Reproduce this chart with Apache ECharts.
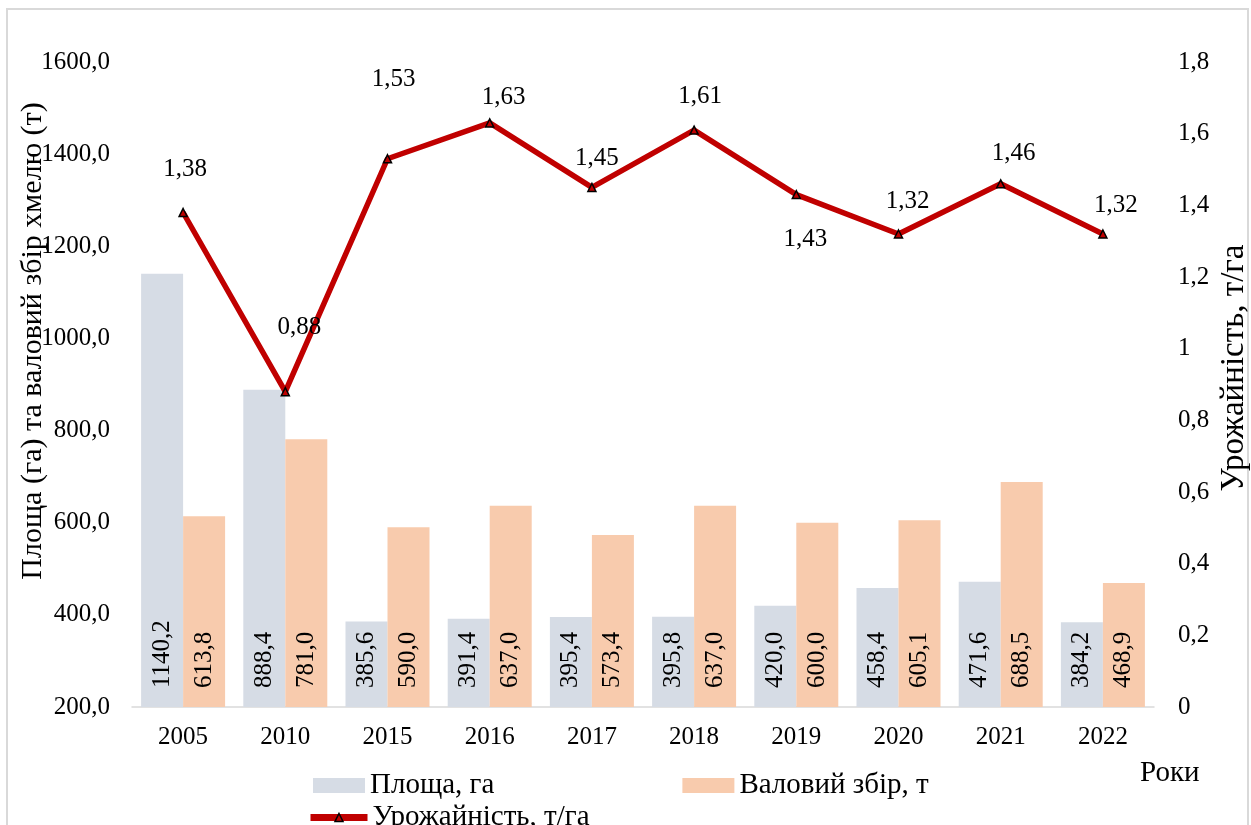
<!DOCTYPE html>
<html>
<head>
<meta charset="utf-8">
<script src="https://cdn.jsdelivr.net/npm/echarts@6/dist/echarts.min.js"></script>
<style>
  html, body { margin: 0; padding: 0; background: #fff; }
  #chart { width: 1251px; height: 825px; }
</style>
</head>
<body>
<div id="chart"></div>
<script>
// роки
const years = ['2005', '2010', '2015', '2016', '2017', '2018', '2019', '2020', '2021', '2022']
// площа, га
const area = [1140.2, 888.4, 385.6, 391.4, 395.4, 395.8, 420.0, 458.4, 471.6, 384.2]
// валовий збір, т
const harvest = [613.8, 781.0, 590.0, 637.0, 573.4, 637.0, 600.0, 605.1, 688.5, 468.9]
// урожайність, т/га
const yieldPerHa = [1.38, 0.88, 1.53, 1.63, 1.45, 1.61, 1.43, 1.32, 1.46, 1.32]

const FONT = "'Liberation Serif', 'Times New Roman', serif"
const FS = 25      // цифри
const FS_TXT = 29  // кирилиця (у Excel ширша)

// зсув підписів лінії (як у Excel, вручну)
const lineLabelShift = [[2, -43], [14, -64], [6, -79], [14, -25], [5, -29],
                        [6, -34], [9, 45], [9, -33], [13, -30], [13, -29]]

const comma = (v, d) => v.toFixed(d).replace('.', ',')

const chart = echarts.init(document.getElementById('chart'), null, {renderer: 'canvas'})

const lineData = yieldPerHa.map((v, i) => ({
    value: v,
    label: {offset: lineLabelShift[i]}
}))

const barLabel = {
    show: true, position: 'insideBottom', distance: 19,
    rotate: 90, align: 'left', verticalAlign: 'middle',
    fontSize: FS, fontFamily: FONT, color: '#000',
    formatter: p => comma(p.value, 1)
}

const option = {
    animation: false,
    textStyle: {fontFamily: FONT},
    grid: {left: 132, right: 97, top: 62, bottom: 118, containLabel: false},
    legend: [
        {
            data: ['Площа, га', 'Валовий збір, т'],
            left: 308, top: 766,
            itemWidth: 52, itemHeight: 15, itemGap: 188,
            icon: 'rect',
            textStyle: {fontFamily: FONT, fontSize: FS_TXT, color: '#000'}
        },
        {
            data: ['Урожайність, т/га'],
            left: 302, top: 798,
            itemWidth: 57, itemHeight: 10,
            lineStyle: {width: 7, color: '#C00000'},
            itemStyle: {color: '#C00000', borderColor: '#000', borderWidth: 1.5},
            textStyle: {fontFamily: FONT, fontSize: FS_TXT, color: '#000'}
        }
    ],
    xAxis: {
        type: 'category',
        data: years,
        axisTick: {show: false},
        axisLine: {lineStyle: {color: '#d9d9d9', width: 1.5}},
        axisLabel: {color: '#000', fontSize: FS, fontFamily: FONT, margin: 18}
    },
    yAxis: [
        {
            type: 'value', min: 200, max: 1600, interval: 200,
            splitLine: {show: false},
            axisLine: {show: false}, axisTick: {show: false},
            axisLabel: {color: '#000', fontSize: FS, fontFamily: FONT, margin: 22,
                formatter: v => comma(v, 1)}
        },
        {
            type: 'value', min: 0, max: 1.8, interval: 0.2,
            splitLine: {show: false},
            axisLine: {show: false}, axisTick: {show: false},
            axisLabel: {color: '#000', fontSize: FS, fontFamily: FONT, margin: 24,
                formatter: v => String(Math.round(v * 10) / 10).replace('.', ',')}
        }
    ],
    series: [
        {
            name: 'Площа, га',
            type: 'bar',
            data: area,
            barWidth: 42, barGap: '0%',
            itemStyle: {color: '#D6DCE5'},
            label: barLabel
        },
        {
            name: 'Валовий збір, т',
            type: 'bar',
            data: harvest,
            barWidth: 42, barGap: '0%',
            itemStyle: {color: '#F8CBAD'},
            label: barLabel
        },
        {
            name: 'Урожайність, т/га',
            type: 'line',
            yAxisIndex: 1,
            data: lineData,
            z: 5,
            symbol: 'triangle',
            symbolSize: 8,
            lineStyle: {color: '#C00000', width: 5.5},
            itemStyle: {color: '#C00000', borderColor: '#000', borderWidth: 1.5},
            label: {
                show: true, position: 'inside',
                fontSize: FS, fontFamily: FONT, color: '#000',
                formatter: p => comma(p.value, 2)
            }
        }
    ],
    graphic: [
        {
            type: 'rect', silent: true, z: -1,
            shape: {x: 7, y: 9, width: 1241, height: 840},
            style: {fill: null, stroke: '#d9d9d9', lineWidth: 2}
        },
        {
            type: 'text', x: 33, y: 341, rotation: Math.PI / 2,
            style: {text: 'Площа (га) та валовий збір хмелю (т)', font: '30px ' + FONT,
                fill: '#000', align: 'center', verticalAlign: 'middle'}
        },
        {
            type: 'text', x: 1234, y: 368, rotation: Math.PI / 2,
            style: {text: 'Урожайність, т/га', font: '33px ' + FONT,
                fill: '#000', align: 'center', verticalAlign: 'middle'}
        },
        {
            type: 'text', x: 1140, y: 773,
            style: {text: 'Роки', font: FS_TXT + 'px ' + FONT,
                fill: '#000', align: 'left', verticalAlign: 'middle'}
        }
    ]
}

chart.setOption(option)
</script>
</body>
</html>
